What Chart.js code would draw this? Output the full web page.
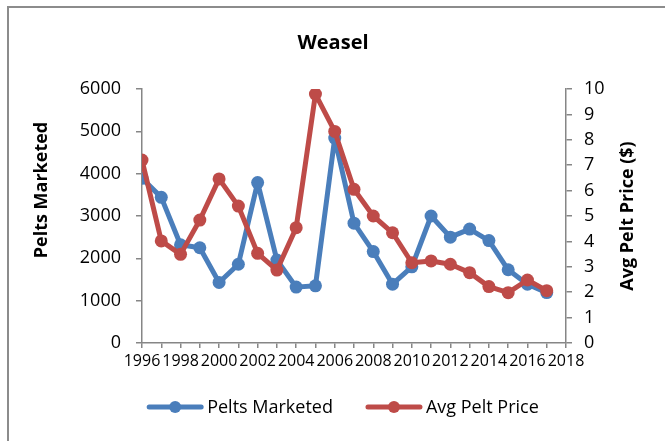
<!DOCTYPE html>
<html>
<head>
<meta charset="utf-8">
<script src="https://cdn.jsdelivr.net/npm/chart.js@4/dist/chart.umd.min.js"></script>
<style>
  html, body { margin: 0; padding: 0; background: #fff; overflow: hidden; }
  #frame { position: absolute; left: 7px; top: 6px; width: 700px; height: 500px; border: 2px solid #8c8c8c; }
  #wrap { position: absolute; left: 0; top: 0; width: 665px; height: 441px; }
</style>
</head>
<body>
<div id="frame"></div>
<div id="wrap"><canvas id="chart" width="665" height="441"></canvas></div>
<script>
var years = [1996, 1997, 1998, 1999, 2000, 2001, 2002, 2003, 2004, 2005, 2006,
	2007, 2008, 2009, 2010, 2011, 2012, 2013, 2014, 2015, 2016, 2017];
var peltsMarketed = [3890, 3440, 2320, 2250, 1430, 1860, 3790, 1960, 1320, 1350, 4840,
	2830, 2160, 1390, 1800, 3000, 2500, 2690, 2420, 1730, 1390, 1190];
var avgPeltPrice = [7.2, 4.02, 3.49, 4.84, 6.46, 5.39, 3.53, 2.87, 4.54, 9.8, 8.33,
	6.05, 5.0, 4.34, 3.16, 3.23, 3.1, 2.77, 2.22, 1.98, 2.48, 2.06];

var chartTitle = 'Weasel';
var leftTitle = 'Pelts Marketed';
var rightTitle = 'Avg Pelt Price ($)';

var blue = '#4A7EBB';
var red = '#BE4B48';
var axisGray = '#868686';
var fontFamily = '"Open Sans", "Liberation Sans", sans-serif';

function toPoints(values) {
	return values.map(function (v, i) { return { x: years[i], y: v }; });
}

// Title, rotated axis titles and the Excel-style legend
var decorations = {
	id: 'decorations',
	afterDraw: function (chart) {
		var ctx = chart.ctx;
		ctx.save();
		ctx.fillStyle = '#000';
		ctx.textAlign = 'center';
		ctx.textBaseline = 'middle';

		ctx.font = 'bold 20px ' + fontFamily;
		ctx.fillText(chartTitle, 333, 43);

		ctx.font = 'bold 18px ' + fontFamily;
		ctx.save();
		ctx.translate(42, 190);
		ctx.rotate(-Math.PI / 2);
		ctx.fillText(leftTitle, 0, 0);
		ctx.restore();

		ctx.save();
		ctx.translate(628, 216);
		ctx.rotate(-Math.PI / 2);
		ctx.fillText(rightTitle, 0, 0);
		ctx.restore();

		// legend
		ctx.font = '18px ' + fontFamily;
		var sets = chart.data.datasets;
		var lineLen = 56, gap = 4, itemGap = 33;
		var total = 0;
		for (var i = 0; i < sets.length; i++) {
			total += lineLen + gap + ctx.measureText(sets[i].label).width;
			if (i < sets.length - 1) { total += itemGap; }
		}
		var x = 343 - total / 2;
		var y = 407;
		ctx.textAlign = 'left';
		for (var j = 0; j < sets.length; j++) {
			ctx.strokeStyle = sets[j].borderColor;
			ctx.lineWidth = 5;
			ctx.lineCap = 'round';
			ctx.beginPath();
			ctx.moveTo(x + 2, y);
			ctx.lineTo(x + lineLen - 2, y);
			ctx.stroke();
			ctx.fillStyle = sets[j].borderColor;
			ctx.beginPath();
			ctx.arc(x + lineLen / 2, y, 6, 0, Math.PI * 2);
			ctx.fill();
			ctx.fillStyle = '#000';
			ctx.fillText(sets[j].label, x + lineLen + gap, y + 1);
			x += lineLen + gap + ctx.measureText(sets[j].label).width + itemGap;
		}
		ctx.restore();
	}
};

new Chart(document.getElementById('chart'), {
	type: 'line',
	data: {
		datasets: [{
			label: 'Pelts Marketed',
			data: toPoints(peltsMarketed),
			yAxisID: 'yLeft',
			borderColor: blue,
			backgroundColor: blue,
			borderWidth: 5,
			borderJoinStyle: 'round',
			borderCapStyle: 'round',
			pointRadius: 6.5,
			pointBorderWidth: 0,
			order: 1
		}, {
			label: 'Avg Pelt Price',
			data: toPoints(avgPeltPrice),
			yAxisID: 'yRight',
			borderColor: red,
			backgroundColor: red,
			borderWidth: 5,
			borderJoinStyle: 'round',
			borderCapStyle: 'round',
			pointRadius: 6.5,
			pointBorderWidth: 0,
			order: 0
		}]
	},
	options: {
		responsive: false,
		animation: false,
		layout: { padding: { top: 89, left: 0, right: 0, bottom: 0 } },
		plugins: {
			legend: { display: false },
			title: { display: false },
			tooltip: { enabled: false }
		},
		scales: {
			x: {
				type: 'linear',
				min: 1996,
				max: 2018,
				afterFit: function (scale) { scale.height = 98; },
				grid: { drawOnChartArea: false, color: axisGray, tickLength: 5, lineWidth: 1.5 },
				border: { color: axisGray, width: 1.5 },
				ticks: {
					stepSize: 1,
					autoSkip: false,
					maxRotation: 0,
					padding: 4,
					color: '#000',
					font: { family: fontFamily, size: 16 },
					callback: function (v) { return v % 2 === 0 ? String(v) : ''; }
				}
			},
			yLeft: {
				position: 'left',
				min: 0,
				max: 6000,
				afterFit: function (scale) { scale.width = 142; },
				grid: { drawOnChartArea: false, color: axisGray, tickLength: 6, lineWidth: 1.5 },
				border: { color: axisGray, width: 1.5 },
				ticks: {
					stepSize: 1000,
					padding: 15,
					color: '#000',
					font: { family: fontFamily, size: 18 },
					callback: function (v) { return String(v); }
				}
			},
			yRight: {
				position: 'right',
				min: 0,
				max: 10,
				afterFit: function (scale) { scale.width = 99; },
				grid: { drawOnChartArea: false, color: axisGray, tickLength: 6, lineWidth: 1.5 },
				border: { color: axisGray, width: 1.5 },
				ticks: {
					stepSize: 1,
					padding: 12,
					color: '#000',
					font: { family: fontFamily, size: 18 }
				}
			}
		}
	},
	plugins: [decorations]
});
</script>
</body>
</html>
